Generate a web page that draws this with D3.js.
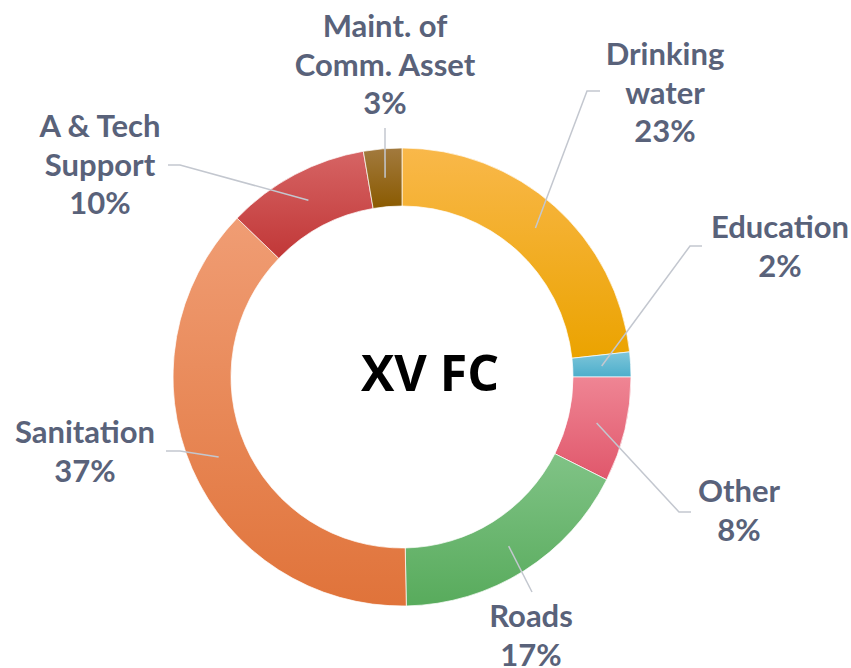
<!DOCTYPE html>
<html lang="en">
<head>
<meta charset="UTF-8">
<title>XV FC</title>
<style>
    body{
        margin: 0;
        background-color: #fff;
    }
    .label{
        font-family: Lato, "Open Sans", sans-serif;
        font-weight: bold;
        font-size: 31px;
        fill: #59627a;
    }
    .title{
        font-family: "Open Sans", sans-serif;
        font-weight: bold;
        font-size: 50px;
        fill: #000;
    }
</style>
</head>
<body>
<div id="chart"></div>
<script src="https://d3js.org/d3.v7.min.js"></script>
<script>

// data (clockwise from 12 o'clock)
let categories = ["Drinking water","Education","Other","Roads","Sanitation","A & Tech Support","Maint. of Comm. Asset"]
let values = [23.25, 1.75, 7.4, 17.3, 37.5, 10.1, 2.7]
let pctLabels = ["23%","2%","8%","17%","37%","10%","3%"]

// top / bottom gradient colours per slice
let topColors = ["#f9b84a","#7fc6da","#ef8594","#80c386","#f09d74","#d66464","#a27a3e"]
let bottomColors = ["#eba300","#4caecb","#e0576b","#58ab5c","#e0733a","#c13737","#8a5a00"]

// label layout: text lines (name part), centre x, first baseline, leader start + elbow
let nameLines = [
    ["Drinking","water"],
    ["Education"],
    ["Other"],
    ["Roads"],
    ["Sanitation"],
    ["A & Tech","Support"],
    ["Maint. of","Comm. Asset"]
]
let labelPos = [
    {x:665, y:65, lx:[600,587], ly:91},
    {x:780, y:238, lx:[702,690], ly:246},
    {x:739, y:502, lx:[691,679], ly:512},
    {x:531, y:627, lx:[532], ly:592},
    {x:85, y:443, lx:[166,180], ly:451},
    {x:100, y:137, lx:[168,180], ly:165},
    {x:385, y:37, lx:[385], ly:128}
]

let W = 851, H = 668
let cx = 402, cy = 377
let outerR = 229, innerR = 171
let lineH = 38.5

let svg = d3.select("#chart")
    .append("svg")
    .attr("width", W)
    .attr("height", H)

let defs = svg.append("defs")
categories.forEach((c,i)=>{
    let g = defs.append("linearGradient")
        .attr("id","grad"+i)
        .attr("x1",0).attr("y1",0).attr("x2",0).attr("y2",1)
    g.append("stop").attr("offset","0%").attr("stop-color",topColors[i])
    g.append("stop").attr("offset","100%").attr("stop-color",bottomColors[i])
})

let pie = d3.pie().sort(null).value(d=>d)
let arcs = pie(values)

let arc = d3.arc()
    .innerRadius(innerR)
    .outerRadius(outerR)

let g = svg.append("g")
    .attr("transform",`translate(${cx},${cy})`)

g.selectAll(".slice")
    .data(arcs)
    .join("path")
    .attr("class","slice")
    .attr("d",arc)
    .attr("fill",(d,i)=>`url(#grad${i})`)
    .attr("stroke","#fff")
    .attr("stroke-width",0.7)

// leader lines, ending at the middle of each slice
svg.selectAll(".leader")
    .data(arcs)
    .join("polyline")
    .attr("class","leader")
    .attr("points",(d,i)=>{
        let p = labelPos[i]
        let c = arc.centroid(d)
        let pts = p.lx.map(x=>[x,p.ly])
        pts.push([cx+c[0],cy+c[1]])
        return pts.map(q=>q.join(",")).join(" ")
    })
    .attr("fill","none")
    .attr("stroke","#c3c7cf")
    .attr("stroke-width",1.5)

// labels: name lines then percentage
let lab = svg.selectAll(".label")
    .data(categories)
    .join("text")
    .attr("class","label")
    .attr("text-anchor","middle")

lab.selectAll("tspan")
    .data((d,i)=>nameLines[i].concat([pctLabels[i]]).map(t=>({t:t,i:i})))
    .join("tspan")
    .attr("x",d=>labelPos[d.i].x)
    .attr("y",(d,j)=>labelPos[d.i].y+j*lineH)
    .text(d=>d.t)

svg.append("text")
    .attr("class","title")
    .attr("x",430)
    .attr("y",391)
    .attr("text-anchor","middle")
    .text("XV FC")

</script>
</body>
</html>
